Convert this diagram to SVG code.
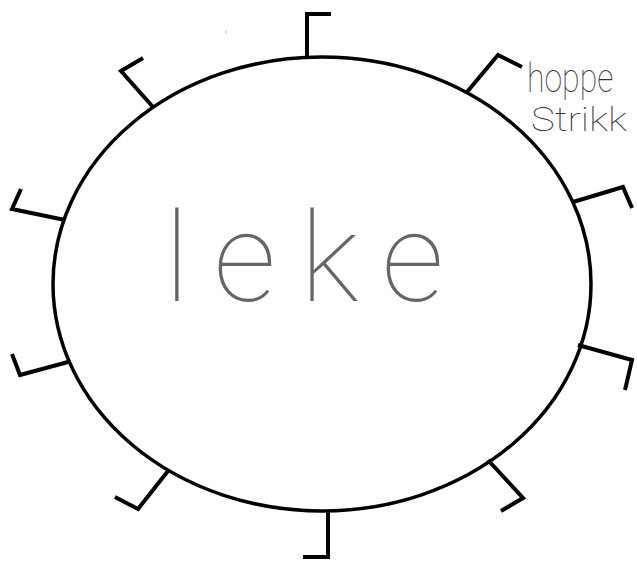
<svg xmlns="http://www.w3.org/2000/svg" width="637" height="562" viewBox="0 0 637 562">
<style>
.line{fill:none;stroke:#000;stroke-width:4;stroke-linejoin:miter;stroke-linecap:butt}
.hand{font-family:Roboto,"Liberation Sans",sans-serif;font-weight:100}
</style>
<rect width="637" height="562" fill="#fff"/>
<g id="leke">
<ellipse cx="322" cy="284" rx="269" ry="227" fill="none" stroke="#000" stroke-width="3.5"/>
<text class="hand" x="164" y="301" font-size="124" fill="#666" textLength="280" lengthAdjust="spacing">leke</text>
</g>
<g id="connectors">
<polyline class="line" points="307,57 307,14 331,14"/>
<polyline class="line" points="467,92 498,55 522,67"/>
<polyline class="line" points="573,202 623,187 632,208"/>
<polyline class="line" points="578,345 632,360 625,390"/>
<polyline class="line" points="488,460 523,498 501,511"/>
<polyline class="line" points="328,510 328,557 303,557"/>
<polyline class="line" points="168,471 138,509 115,497"/>
<polyline class="line" points="68,362 20,375 12,354"/>
<polyline class="line" points="65,220 12,209 21,189"/>
<polyline class="line" points="153,107 121,71 143,58"/>
</g>
<g id="label-hoppe-strikk">
<text class="hand" transform="translate(527,92) scale(0.8,1)" x="0" y="0" font-size="40" fill="#333">hoppe</text>
<text class="hand" transform="translate(531,131) scale(1.18,1)" x="0" y="0" font-size="34" fill="#333">Strikk</text>
</g>
<circle cx="226" cy="32" r="0.8" fill="#999"/>
</svg>
